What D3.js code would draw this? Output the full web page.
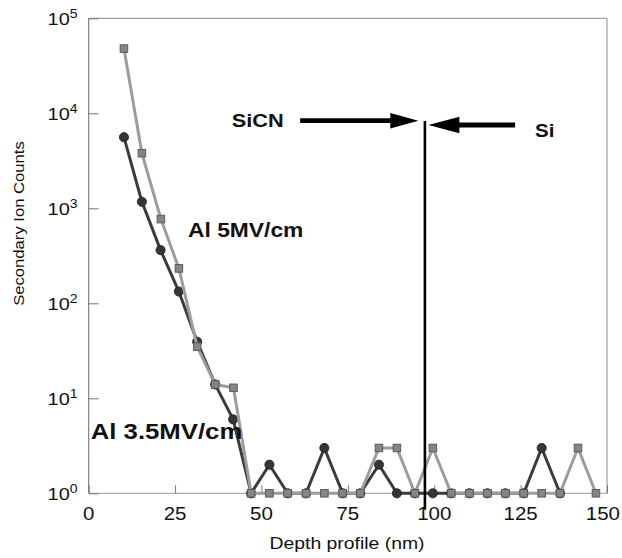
<!DOCTYPE html>
<html>
<head>
<meta charset="utf-8">
<script src="https://cdn.jsdelivr.net/npm/d3@7"></script>
<style>
  html, body { margin: 0; padding: 0; background: #fff; }
  svg { display: block; }
  text { font-family: Arial, "Liberation Sans", Helvetica, sans-serif; fill: #111; }
</style>
</head>
<body>
<svg id="chart" width="622" height="558"></svg>
<script>
// Depth positions (nm) of the SIMS profile steps
const depthAl5 = [10.2, 15.4, 20.9, 26.1, 31.4, 36.6, 41.9, 47.0, 52.3, 57.6, 62.9, 68.2, 73.5,
  78.6, 84.0, 89.2, 94.4, 99.6, 104.9, 110.2, 115.4, 120.6, 125.9, 131.1, 136.4, 141.6, 146.8];
// Al counts, 5 MV/cm stress
const countsAl5 = [48000, 3800, 770, 233, 35, 14, 12.9, 1, 1, 1, 1, 1, 1,
  1, 3, 3, 1, 3, 1, 1, 1, 1, 1, 1, 1, 3, 1];

const depthAl35 = [10.2, 15.4, 20.8, 26.1, 31.4, 36.6, 41.8, 47.0, 52.3, 57.6, 62.9, 68.2, 73.5,
  78.6, 84.0, 89.2, 94.4, 99.6, 104.9, 110.2, 115.4, 120.6, 125.9, 131.1, 136.4];
// Al counts, 3.5 MV/cm stress
const countsAl35 = [5600, 1170, 363, 133, 39.4, 14, 6, 1, 2, 1, 1, 3, 1,
  1, 2, 1, 1, 1, 1, 1, 1, 1, 1, 3, 1];

const xTicks = [0, 25, 50, 75, 100, 125, 150];
const yTickExponents = [0, 1, 2, 3, 4, 5];

// SiCN / Si interface position (nm)
const interfaceDepth = 97.3;

const svg = d3.select("#chart");
const STRETCH = 1.17;
const W = 622;

const x = d3.scaleLinear().domain([0, 150]).range([88.7, 607]);
const y = d3.scaleLog().domain([1, 1e5]).range([493.3, 18.3]);

// horizontally widened text, anchored at (px, py)
function label(px, py, str, size, weight, anchor, sx) {
  return svg.append("text")
    .attr("transform", `translate(${px},${py}) scale(${sx || STRETCH},1)`)
    .attr("text-anchor", anchor || "start")
    .style("font-size", size + "px")
    .style("font-weight", weight || "normal")
    .text(str);
}

// plot frame
const frame = svg.append("g").attr("fill", "none").attr("stroke-width", 1);
frame.append("line").attr("x1", x(0)).attr("x2", x(150)).attr("y1", y(1e5)).attr("y2", y(1e5)).attr("stroke", "#8a8a8a");
frame.append("line").attr("x1", x(150)).attr("x2", x(150)).attr("y1", y(1e5)).attr("y2", y(1)).attr("stroke", "#8a8a8a");
frame.append("line").attr("x1", x(0)).attr("x2", x(0)).attr("y1", y(1e5)).attr("y2", y(1)).attr("stroke", "#6a6a6a");
frame.append("line").attr("x1", x(0)).attr("x2", x(150)).attr("y1", y(1)).attr("y2", y(1)).attr("stroke", "#9a9a9a");

// x axis: inward ticks, labels below
const xAxis = d3.axisBottom(x).tickValues(xTicks).tickSize(-8).tickFormat("");
svg.append("g").attr("transform", `translate(0,${y(1)})`).call(xAxis)
  .call(g => g.select(".domain").remove())
  .call(g => g.selectAll(".tick line").attr("stroke", "#777"));
xTicks.forEach(v => {
  const t = label(x(v), 520, String(v), 17.5, "normal", "middle");
  // keep the last label inside the page
  const w = t.node().getComputedTextLength() * STRETCH;
  const over = x(v) + w / 2 - (W - 2);
  if (over > 0) t.attr("transform", `translate(${x(v) - over},520) scale(${STRETCH},1)`);
});

// y axis: inward ticks at decades, 10^n labels
const yAxis = d3.axisLeft(y).tickValues(yTickExponents.map(e => Math.pow(10, e))).tickSize(-10).tickFormat("");
svg.append("g").attr("transform", `translate(${x(0)},0)`).call(yAxis)
  .call(g => g.select(".domain").remove())
  .call(g => g.selectAll(".tick line").attr("stroke", "#777"));
yTickExponents.forEach(e => {
  const t = svg.append("text")
    .attr("transform", `translate(77.5,${y(Math.pow(10, e)) + 7}) scale(${STRETCH},1)`)
    .attr("text-anchor", "end")
    .style("font-size", "17px");
  t.append("tspan").text("10");
  t.append("tspan").attr("dy", -7).style("font-size", "12px").text(String(e));
});

// axis titles
label(347, 549, "Depth profile (nm)", 17, "normal", "middle", 1.14);
svg.append("text")
  .attr("transform", "translate(24,223.5) rotate(-90) scale(1.11,1)")
  .attr("text-anchor", "middle")
  .style("font-size", "15px")
  .text("Secondary Ion Counts");

// series
const ptsAl35 = depthAl35.map((d, i) => [d, countsAl35[i]]);
const ptsAl5 = depthAl5.map((d, i) => [d, countsAl5[i]]);
const line = d3.line().x(d => x(d[0])).y(d => y(d[1]));

svg.append("path").datum(ptsAl35).attr("d", line)
  .attr("fill", "none").attr("stroke", "#3b3b3b").attr("stroke-width", 3).attr("stroke-linejoin", "round");
svg.append("g").selectAll("circle").data(ptsAl35).join("circle")
  .attr("cx", d => x(d[0])).attr("cy", d => y(d[1])).attr("r", 4.6)
  .attr("fill", "#353535").attr("stroke", "#222").attr("stroke-width", 0.8);

svg.append("path").datum(ptsAl5).attr("d", line)
  .attr("fill", "none").attr("stroke", "#9c9c9c").attr("stroke-width", 3).attr("stroke-linejoin", "round");
const sq = 7.6;
svg.append("g").selectAll("rect").data(ptsAl5).join("rect")
  .attr("x", d => x(d[0]) - sq / 2).attr("y", d => y(d[1]) - sq / 2)
  .attr("width", sq).attr("height", sq)
  .attr("fill", "#858585").attr("stroke", "#555").attr("stroke-width", 0.9);

// interface marker line
svg.append("line")
  .attr("x1", x(interfaceDepth)).attr("x2", x(interfaceDepth))
  .attr("y1", y(8300)).attr("y2", y(0.67))
  .attr("stroke", "#000").attr("stroke-width", 2.6);

// arrows pointing at the interface
function arrow(tailX, tipX, yv, headLen, headHalf, shaftW) {
  const dir = Math.sign(x(tipX) - x(tailX));
  const tip = x(tipX), py = y(yv), base = tip - dir * headLen;
  svg.append("line").attr("x1", x(tailX)).attr("x2", base + dir * 2).attr("y1", py).attr("y2", py)
    .attr("stroke", "#000").attr("stroke-width", shaftW);
  svg.append("path")
    .attr("d", `M${tip},${py} L${base},${py - headHalf} L${base},${py + headHalf} Z`)
    .attr("fill", "#000");
}
arrow(61.2, 95.4, 8360, 28, 7.8, 4.8);
arrow(123.4, 98.3, 7530, 31, 8.3, 4.8);

// annotations
label(231.7, 127.3, "SiCN", 18.6, "bold");
label(535, 136.5, "Si", 17.5, "bold");
label(188, 236.7, "Al 5MV/cm", 19.5, "bold");
label(90.7, 439.3, "Al 3.5MV/cm", 22, "bold");
</script>
</body>
</html>
